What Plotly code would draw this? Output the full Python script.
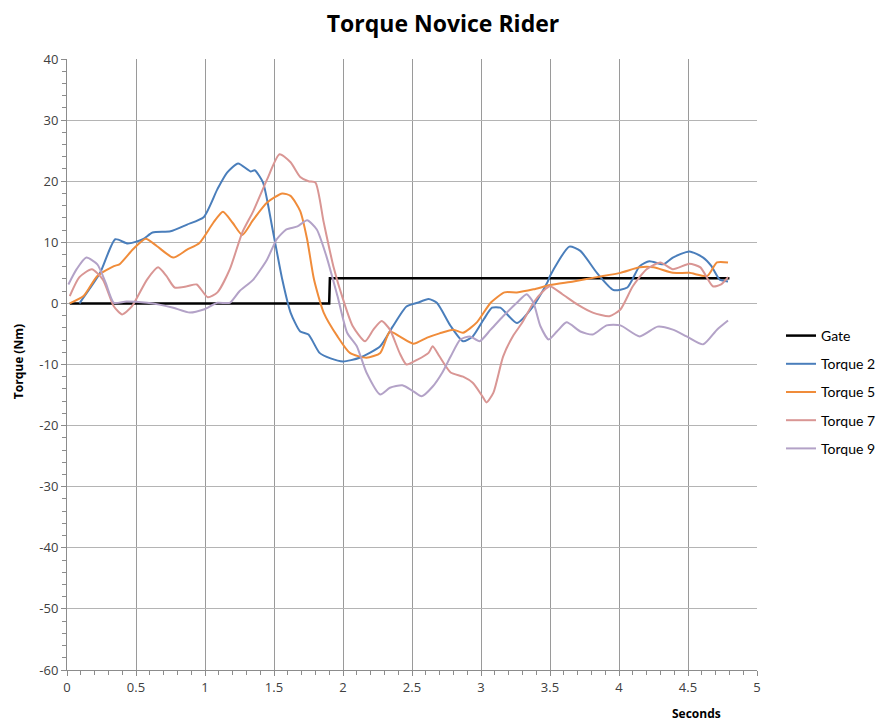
import plotly.graph_objects as go

FONT = "'Open Sans', Lato, sans-serif"
LEGEND_FONT = "Lato, 'Open Sans', sans-serif"

BLUE = "#4a7ebb"
ORANGE = "#f08c3a"
PINK = "#d99694"
LAVENDER = "#b3a2c7"

gate_x = [0.02, 1.90, 1.905, 4.80]
gate_y = [0, 0, 4.1, 4.1]

t2_x = [0.09, 0.24, 0.35, 0.44, 0.55, 0.62, 0.75, 0.87, 0.99, 1.09, 1.16, 1.24, 1.33, 1.36,
        1.42, 1.49, 1.56, 1.62, 1.69, 1.75, 1.83, 1.91, 2.00, 2.12, 2.27, 2.36, 2.46, 2.54,
        2.62, 2.68, 2.78, 2.87, 2.94, 3.02, 3.08, 3.14, 3.26, 3.38, 3.48, 3.50, 3.64, 3.72,
        3.84, 3.96, 4.06, 4.15, 4.22, 4.32, 4.39, 4.51, 4.61, 4.67, 4.73, 4.79]
t2_y = [0, 5, 10.5, 9.8, 10.5, 11.6, 11.8, 12.9, 14.1, 18.7, 21.4, 22.9, 21.6, 21.8,
        19.8, 12.1, 3.9, -1.5, -4.6, -5.1, -8.1, -9.0, -9.5, -8.9, -7.0, -3.8, -0.5, 0.1,
        0.7, 0.1, -3.7, -6.2, -5.4, -2.6, -0.7, -0.7, -3.2, -0.4, 3.4, 4.5, 9.3, 8.6,
        5.0, 2.2, 2.6, 6.1, 6.9, 6.4, 7.5, 8.5, 7.5, 6.1, 3.9, 3.6]

t5_x = [0.02, 0.12, 0.22, 0.34, 0.38, 0.48, 0.57, 0.65, 0.77, 0.87, 0.96, 1.06, 1.13, 1.20,
        1.27, 1.35, 1.45, 1.56, 1.62, 1.69, 1.74, 1.79, 1.86, 1.96, 2.05, 2.17, 2.27, 2.34,
        2.41, 2.51, 2.61, 2.70, 2.80, 2.87, 2.97, 3.07, 3.17, 3.26, 3.38, 3.50, 3.67, 3.84,
        4.01, 4.15, 4.25, 4.39, 4.51, 4.64, 4.71, 4.79]
t5_y = [0, 1.2, 4.5, 6.1, 6.4, 8.9, 10.6, 9.4, 7.5, 8.8, 9.9, 13.2, 15.0, 13.2,
        11.2, 13.7, 16.5, 18.0, 17.6, 15.1, 10.5, 3.9, -1.5, -5.4, -8.1, -8.9, -8.1, -4.6,
        -5.4, -6.6, -5.6, -4.9, -4.3, -4.8, -3.1, 0.1, 1.8, 1.8, 2.3, 3.0, 3.6, 4.3,
        5.0, 5.9, 5.9, 5.0, 5.0, 4.5, 6.7, 6.7]

t7_x = [0.02, 0.09, 0.18, 0.26, 0.34, 0.40, 0.47, 0.58, 0.66, 0.72, 0.78, 0.87, 0.94, 1.02,
        1.09, 1.18, 1.27, 1.35, 1.45, 1.54, 1.62, 1.69, 1.75, 1.80, 1.86, 1.93, 2.00, 2.07,
        2.16, 2.22, 2.28, 2.34, 2.41, 2.46, 2.54, 2.62, 2.65, 2.70, 2.78, 2.87, 2.94, 3.01,
        3.04, 3.09, 3.16, 3.23, 3.30, 3.38, 3.45, 3.50, 3.59, 3.70, 3.81, 3.93, 4.01, 4.10,
        4.20, 4.30, 4.39, 4.51, 4.59, 4.68, 4.74, 4.79]
t7_y = [1.2, 4.3, 5.6, 3.9, -0.5, -1.8, -0.5, 3.9, 5.9, 4.5, 2.6, 2.8, 3.1, 1.0,
        1.8, 5.6, 11.6, 15.1, 20.3, 24.4, 23.1, 20.7, 20.0, 19.8, 13.3, 6.1, 0.7, -3.7,
        -6.2, -4.3, -2.9, -4.3, -8.1, -10.0, -9.2, -8.1, -7.0, -8.7, -11.3, -12.0, -13.0, -15.2,
        -16.2, -14.6, -8.7, -5.4, -3.1, 0.1, 2.0, 2.8, 1.5, -0.2, -1.5, -2.1, -1.0, 2.8,
        5.6, 6.7, 5.6, 6.5, 5.9, 2.8, 3.1, 4.3]

t9_x = [0.01, 0.07, 0.14, 0.22, 0.28, 0.34, 0.43, 0.58, 0.67, 0.77, 0.89, 0.99, 1.09, 1.18,
        1.25, 1.35, 1.45, 1.52, 1.59, 1.67, 1.74, 1.81, 1.88, 1.96, 2.03, 2.10, 2.17, 2.27,
        2.34, 2.43, 2.51, 2.57, 2.65, 2.72, 2.78, 2.85, 2.92, 2.99, 3.07, 3.16, 3.26, 3.33,
        3.38, 3.43, 3.49, 3.55, 3.62, 3.72, 3.81, 3.91, 4.01, 4.15, 4.28, 4.39, 4.49, 4.61,
        4.71, 4.79]
t9_y = [3.1, 5.6, 7.5, 6.4, 3.4, 0.1, 0.3, 0.1, -0.2, -0.7, -1.5, -1.0, 0.1, 0.1,
        2.0, 3.9, 7.2, 10.5, 12.1, 12.6, 13.6, 12.1, 7.7, 1.2, -4.8, -7.0, -11.3, -14.9,
        -13.8, -13.4, -14.4, -15.2, -13.6, -11.3, -8.7, -5.9, -5.4, -6.2, -4.3, -2.1, 0.1, 1.5,
        0.1, -3.7, -5.9, -4.6, -3.1, -4.6, -5.1, -3.6, -3.6, -5.4, -3.8, -4.3, -5.4, -6.7,
        -4.3, -2.8]

x_ticks = [0, 0.5, 1, 1.5, 2, 2.5, 3, 3.5, 4, 4.5, 5]
x_labels = ["0", "0.5", "1", "1.5", "2", "2.5", "3", "3.5", "4", "4.5", "5"]
y_ticks = [-60, -50, -40, -30, -20, -10, 0, 10, 20, 30, 40]
y_labels = ["-60", "-50", "-40", "-30", "-20", "-10", "0", "10", "20", "30", "40"]

series = [
    ("Gate", gate_x, gate_y, "#000000", 2.5, "linear"),
    ("Torque 2", t2_x, t2_y, BLUE, 2, "spline"),
    ("Torque 5", t5_x, t5_y, ORANGE, 2, "spline"),
    ("Torque 7", t7_x, t7_y, PINK, 2, "spline"),
    ("Torque 9", t9_x, t9_y, LAVENDER, 2, "spline"),
]

fig = go.Figure()
for name, xs, ys, color, width, shape in series:
    fig.add_trace(go.Scatter(
        x=xs, y=ys, name=name, mode="lines", legendgroup=name,
        line=dict(color=color, width=width, shape=shape, smoothing=0.6),
    ))

axis_common = dict(
    showgrid=True, gridwidth=1,
    showline=True, linecolor="#8c8c8c", linewidth=1,
    ticks="outside", ticklen=5, tickcolor="#8c8c8c",
    tickfont=dict(family=FONT, size=13, color="#404040"),
    zeroline=False,
)

fig.update_xaxes(
    range=[0, 5], tickvals=x_ticks, ticktext=x_labels, gridcolor="#9a9a9a",
    minor=dict(dtick=0.1, ticks="outside", ticklen=4, tickcolor="#8c8c8c", showgrid=False),
    **axis_common,
)
fig.update_yaxes(
    range=[-60, 40], tickvals=y_ticks, ticktext=y_labels, gridcolor="#b4b4b4",
    minor=dict(dtick=2, ticks="outside", ticklen=4, tickcolor="#8c8c8c", showgrid=False),
    **axis_common,
)

# the page body has an 8px margin, so the figure is sized and placed to suit
W, H = 876, 714
fig.update_layout(
    width=W, height=H,
    margin=dict(l=59, r=127, t=51, b=52),
    paper_bgcolor="white", plot_bgcolor="white",
    title=dict(text="<b>Torque Novice Rider</b>", x=435 / W, xanchor="center",
               y=1 - 16 / H, yanchor="middle",
               font=dict(family=FONT, size=23, color="#000000")),
    # container-referenced legend so it does not squeeze the plot area
    legend=dict(xref="container", x=773 / W, y=0.455, xanchor="left", yanchor="middle",
                font=dict(family=LEGEND_FONT, size=14, color="#000000"),
                tracegroupgap=7, itemwidth=30, bgcolor="rgba(0,0,0,0)"),
    showlegend=True,
    annotations=[
        dict(text="<b>Seconds</b>", xref="paper", yref="paper", x=0.913, y=-0.072,
             xanchor="center", yanchor="middle", showarrow=False,
             font=dict(family=FONT, size=12, color="#000000")),
        dict(text="<b>Torque (Nm)</b>", xref="paper", yref="paper", x=-0.07, y=0.505,
             xanchor="center", yanchor="middle", showarrow=False, textangle=-90,
             font=dict(family=FONT, size=12, color="#000000")),
    ],
)

fig.write_html("out.html")
